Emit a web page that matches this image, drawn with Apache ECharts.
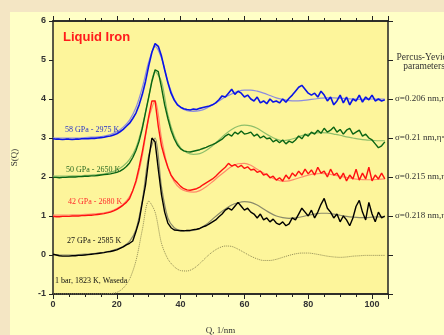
<!DOCTYPE html>
<html><head><meta charset="utf-8">
<script src="https://cdn.jsdelivr.net/npm/echarts@6/dist/echarts.min.js"></script>
<style>html,body{margin:0;padding:0;background:#f4e6c4;}#c{width:444px;height:335px;}</style>
</head><body><div id="c"></div>
<script>
// Q grids (1/nm)
const qData = [0,1,2,3,4,5,6,7,8,9,10,11,12,13,14,15,16,17,18,19,20,21,22,23,24,25,26,27,28,29,30,31,32,33,34,35,36,37,38,39,40,41,42,43,44,45,46,47,48,49,50,51,52,53,54,55,56,57,58,59,60,61,62,63,64,65,66,67,68,69,70,71,72,73,74,75,76,77,78,79,80,81,82,83,84,85,86,87,88,89,90,91,92,93,94,95,96,97,98,99,100,101,102,103,104];
const qFit = [0,2,4,6,8,10,12,14,16,18,20,22,24,26,28,30,32,34,36,38,40,42,44,46,48,50,52,54,56,58,60,62,64,66,68,70,72,74,76,78,80,82,84,86,88,90,92,94,96,98,100,102,104];

// measured S(Q) (offset curves)
const blue58 = [2.98,2.97,2.97,2.96,2.97,2.97,2.96,2.97,2.97,2.98,2.98,2.98,2.99,2.99,3.00,3.01,3.02,3.04,3.05,3.08,3.11,3.16,3.22,3.30,3.38,3.50,3.64,3.85,4.12,4.45,4.85,5.20,5.42,5.35,5.10,4.75,4.42,4.15,3.97,3.85,3.79,3.75,3.73,3.72,3.74,3.73,3.76,3.78,3.80,3.82,3.85,3.90,3.98,4.08,4.05,4.15,4.25,4.12,4.20,4.15,4.05,4.10,4.00,3.95,4.05,3.90,3.95,3.88,4.00,3.92,3.95,3.90,4.00,3.92,4.02,4.10,4.20,4.30,4.35,4.25,4.15,4.10,4.15,4.05,4.20,4.10,3.95,4.05,3.85,3.95,4.10,3.90,4.05,3.85,4.00,3.95,4.10,3.92,4.05,3.98,4.10,3.95,4.00,3.95,3.98];
const green50 = [1.99,1.99,1.98,1.99,1.99,2.00,2.00,2.00,2.01,2.01,2.02,2.02,2.03,2.03,2.04,2.05,2.06,2.07,2.08,2.10,2.12,2.15,2.20,2.27,2.36,2.50,2.68,2.92,3.25,3.65,4.05,4.45,4.75,4.70,4.30,3.85,3.50,3.20,2.98,2.82,2.72,2.67,2.65,2.64,2.66,2.68,2.70,2.73,2.76,2.80,2.83,2.87,2.92,2.97,3.05,3.10,3.05,3.15,3.10,3.18,3.10,3.12,3.15,3.05,3.10,3.00,3.05,2.98,3.00,2.90,2.95,2.88,2.95,2.85,2.92,2.88,2.95,3.05,2.98,3.10,3.05,3.15,3.10,3.20,3.12,3.25,3.15,3.20,3.28,3.15,3.22,3.10,3.20,3.25,3.10,3.15,3.20,3.05,3.10,3.00,2.95,2.85,2.75,2.80,2.90];
const red42 = [0.99,0.98,0.98,0.99,0.99,0.99,1.00,1.00,1.00,1.01,1.01,1.02,1.02,1.03,1.04,1.05,1.06,1.08,1.10,1.13,1.17,1.22,1.28,1.35,1.45,1.65,1.90,2.25,2.65,3.10,3.55,3.95,3.95,3.30,2.80,2.50,2.25,2.05,1.93,1.85,1.76,1.70,1.67,1.66,1.68,1.70,1.74,1.80,1.85,1.90,1.95,2.02,2.10,2.18,2.25,2.35,2.28,2.32,2.25,2.30,2.22,2.26,2.18,2.20,2.12,2.15,2.05,2.08,1.98,2.02,1.92,1.98,1.90,2.05,1.95,2.10,2.02,2.15,2.05,2.20,2.08,2.18,2.05,2.25,2.10,2.15,2.00,2.20,2.05,2.10,1.95,2.10,1.90,2.05,1.95,2.20,1.92,2.10,1.95,2.25,1.90,2.05,1.95,2.10,1.95];
const black27 = [0.02,0.00,-0.02,-0.03,-0.03,-0.03,-0.02,-0.02,-0.01,-0.01,0.00,0.01,0.02,0.03,0.04,0.05,0.06,0.08,0.09,0.11,0.13,0.17,0.21,0.26,0.30,0.36,0.60,0.88,1.35,1.80,2.45,3.00,2.90,2.20,1.55,1.10,0.82,0.70,0.64,0.63,0.62,0.62,0.63,0.63,0.65,0.66,0.68,0.72,0.75,0.80,0.85,0.90,0.98,1.05,1.15,1.20,1.15,1.25,1.35,1.25,1.15,1.20,1.10,1.05,0.95,1.05,0.90,0.95,0.85,0.92,0.82,0.78,0.85,0.75,0.80,0.95,0.90,1.05,1.20,1.10,1.00,1.15,0.95,1.10,1.30,1.45,1.20,1.10,0.95,1.05,0.85,1.00,0.90,0.75,0.95,1.25,1.40,1.10,0.90,1.35,1.05,0.85,1.10,0.95,1.00];

// Percus-Yevick fits
const blueFit = [3.00,3.00,3.00,3.00,3.00,3.01,3.02,3.03,3.05,3.09,3.16,3.28,3.46,3.78,4.30,4.95,5.35,5.05,4.45,4.00,3.78,3.70,3.68,3.70,3.76,3.85,3.95,4.05,4.13,4.20,4.23,4.23,4.20,4.15,4.09,4.03,3.99,3.96,3.95,3.96,3.98,4.00,4.02,4.03,4.03,4.02,4.01,4.00,3.99,3.99,4.00,4.00,4.00];
const greenFit = [2.02,2.02,2.02,2.03,2.03,2.04,2.05,2.06,2.08,2.12,2.18,2.28,2.45,2.75,3.30,4.05,4.70,4.45,3.60,3.05,2.75,2.62,2.58,2.60,2.68,2.80,2.95,3.10,3.22,3.30,3.33,3.31,3.25,3.15,3.05,2.97,2.93,2.95,3.00,3.06,3.10,3.13,3.14,3.13,3.10,3.07,3.03,3.00,2.97,2.95,2.94,2.93,2.93];
const redFit = [1.02,1.02,1.02,1.03,1.03,1.04,1.05,1.06,1.08,1.12,1.19,1.30,1.50,1.85,2.55,3.50,3.95,3.00,2.25,1.88,1.70,1.63,1.61,1.65,1.75,1.88,2.02,2.15,2.27,2.34,2.35,2.30,2.20,2.10,2.00,1.93,1.89,1.90,1.95,2.00,2.05,2.08,2.09,2.08,2.05,2.02,1.99,1.96,1.94,1.93,1.93,1.94,1.95];
const blackFit = [0.02,0.00,0.00,0.00,0.01,0.02,0.03,0.05,0.07,0.10,0.15,0.22,0.35,0.65,1.40,2.55,3.00,1.75,0.95,0.70,0.63,0.62,0.63,0.68,0.78,0.92,1.06,1.18,1.28,1.34,1.37,1.35,1.28,1.18,1.08,1.00,0.96,0.94,0.95,0.98,1.02,1.05,1.07,1.07,1.05,1.02,0.99,0.97,0.96,0.96,0.97,0.98,0.98];
// 1 bar, 1823 K (Waseda), offset -1
const waseda = [-1.00,-1.00,-1.00,-1.00,-1.00,-1.00,-1.00,-1.00,-1.00,-0.99,-0.96,-0.85,-0.62,-0.15,0.65,1.38,1.10,0.30,-0.10,-0.30,-0.40,-0.41,-0.35,-0.22,-0.06,0.08,0.18,0.23,0.22,0.15,0.06,-0.03,-0.10,-0.14,-0.14,-0.11,-0.06,-0.01,0.03,0.05,0.05,0.03,0.00,-0.03,-0.05,-0.06,-0.05,-0.03,-0.02,-0.01,-0.01,-0.01,-0.01];

const xTicksMajor = 20, xTicksMinor = 5;
const yLabelsRight = {'5':'{p1|Percus-Yevick}\n{p|parameters}','4':'σ=0.206 nm,η=','3':'σ=0.21 nm,η=','2':'σ=0.215 nm,η=','1':'σ=0.218 nm,η='};
const curveLabels = ['58 GPa - 2975 K','50 GPa - 2650 K','42 GPa - 2680 K','27 GPa - 2585 K','1 bar, 1823 K, Waseda'];

function pairs(xs, ys){ return ys.map((v,i)=>[xs[i], v]); }

const chart = echarts.init(document.getElementById('c'), null, {renderer:'canvas'});
const axisCol = '#222';
function xAx(pos, interval, len, labels){
  return {type:'value', position:pos, min:0, max:105, interval:interval,
    axisLine:{show:true, onZero:false, lineStyle:{color:axisCol, width:1.5}},
    axisTick:{show:true, inside:false, length:len, lineStyle:{color:axisCol, width:1}},
    axisLabel:{show:labels, color:'#333', fontSize:9, fontWeight:'bold', fontFamily:'Liberation Sans, Arial', margin:6,
      formatter: v => (v>100 ? '' : String(v))},
    splitLine:{show:false}};
}
const xAxes = [xAx('bottom', xTicksMajor, 5, true), xAx('bottom', xTicksMinor, 3, false), xAx('top', xTicksMajor, 5, false), xAx('top', xTicksMinor, 3, false)];
xAxes[0].name = 'Q, 1/nm';
xAxes[0].nameLocation = 'middle';
xAxes[0].nameGap = 32;
xAxes[0].nameTextStyle = {fontFamily:'Liberation Serif, Times New Roman', fontSize:9, color:'#333'};

const fitLine = (name, xs, ys, col) => ({name, type:'line', data:pairs(xs, ys), showSymbol:false, smooth:0.3,
  lineStyle:{color:col, width:1.2}, z:2, animation:false});
const dataLine = (name, ys, col, w) => ({name, type:'line', data:pairs(qData, ys), showSymbol:false,
  lineStyle:{color:col, width:w}, z:3, animation:false});

const serif = 'Liberation Serif, Times New Roman';
chart.setOption({
  backgroundColor:'transparent',
  animation:false,
  grid:{left:53, right:56, top:21, bottom:41, show:true, backgroundColor:'#fdf59b', borderWidth:0, containLabel:false, outerBoundsMode:'none'},
  xAxis: xAxes,
  yAxis:[
    {type:'value', position:'left', min:-1, max:6, interval:1,
      name:'S(Q)', nameLocation:'middle', nameGap:34, nameRotate:90,
      nameTextStyle:{fontFamily:serif, fontSize:9, color:'#333'},
      axisLine:{show:true, onZero:false, lineStyle:{color:axisCol, width:1.5}},
      axisTick:{show:true, length:4, lineStyle:{color:axisCol}},
      axisLabel:{color:'#333', fontSize:9, fontWeight:'bold', fontFamily:'Liberation Sans, Arial', margin:7},
      splitLine:{show:false}},
    {type:'value', position:'right', min:-1, max:6, interval:1,
      axisLine:{show:true, onZero:false, lineStyle:{color:axisCol, width:1.5}},
      axisTick:{show:true, length:5, lineStyle:{color:axisCol}},
      axisLabel:{color:'#333', fontSize:9, fontFamily:serif, margin:7,
        formatter: v => yLabelsRight[String(v)] || '',
        rich:{
          p1:{width:58, align:'center', fontSize:9.5, fontFamily:serif, color:'#333', lineHeight:13, padding:[8,0,0,0]},
          p:{width:58, align:'center', fontSize:9.5, fontFamily:serif, color:'#333', lineHeight:13}}},
      splitLine:{show:false}}
  ],
  series:[
    fitLine('blueFit', qFit, blueFit, '#8c8ce0'),
    fitLine('greenFit', qFit, greenFit, '#8fbf6a'),
    fitLine('redFit', qFit, redFit, '#ff8a6a'),
    fitLine('blackFit', qFit, blackFit, '#8a8a6a'),
    {name:'waseda', type:'line', data:pairs(qFit, waseda), showSymbol:false, smooth:0.3,
      lineStyle:{color:'#8f8a55', width:1, type:'dotted'}, z:2, animation:false},
    dataLine('58 GPa', blue58, '#0a14e6', 1.6),
    dataLine('50 GPa', green50, '#0a6414', 1.4),
    dataLine('42 GPa', red42, '#ff1010', 1.4),
    dataLine('27 GPa', black27, '#000000', 1.4)
  ],
  graphic:[
    {type:'rect', left:10, top:12, z:-10, silent:true, shape:{width:434, height:323}, style:{fill:'#ffffc6'}},
    {type:'text', left:63, top:31, z:10, style:{text:'Liquid Iron', fill:'#ff1a1a', font:'bold 13px "Liberation Sans", Arial'}},
    {type:'text', left:65, top:126, z:10, style:{text:curveLabels[0], fill:'#2a35c8', font:'8px "Liberation Serif", "Times New Roman"'}},
    {type:'text', left:66, top:166, z:10, style:{text:curveLabels[1], fill:'#2a6a22', font:'8px "Liberation Serif", "Times New Roman"'}},
    {type:'text', left:68, top:198, z:10, style:{text:curveLabels[2], fill:'#ff2a2a', font:'8px "Liberation Serif", "Times New Roman"'}},
    {type:'text', left:67, top:237, z:10, style:{text:curveLabels[3], fill:'#111', font:'8px "Liberation Serif", "Times New Roman"'}},
    {type:'text', left:55, top:277, z:10, style:{text:curveLabels[4], fill:'#111', font:'8px "Liberation Serif", "Times New Roman"'}}
  ]
});
</script></body></html>
